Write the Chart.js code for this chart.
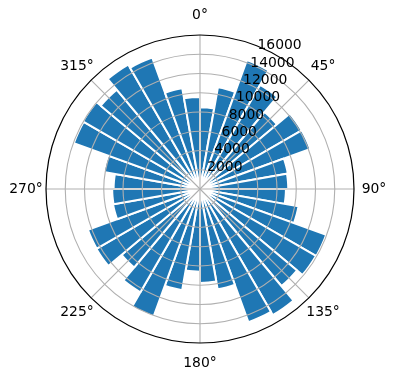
<!DOCTYPE html>
<html>
<head>
<meta charset="utf-8">
<script src="https://cdn.jsdelivr.net/npm/chart.js@4/dist/chart.umd.min.js"></script>
<style>
html, body { margin: 0; padding: 0; background: #ffffff; }
canvas { display: block; }
</style>
</head>
<body>
<canvas id="c" width="396" height="380"></canvas>
<script>
// Direction sectors (10° each, clockwise from north)
const sectors = [
  '0-10°','10-20°','20-30°','30-40°','40-50°','50-60°','60-70°','70-80°','80-90°',
  '90-100°','100-110°','110-120°','120-130°','130-140°','140-150°','150-160°','160-170°','170-180°',
  '180-190°','190-200°','200-210°','210-220°','220-230°','230-240°','240-250°','250-260°','260-270°',
  '270-280°','280-290°','290-300°','300-310°','310-320°','320-330°','330-340°','340-350°','350-360°'
];
// Bar lengths
const values = [
  8700, 11000, 14600, 12800, 10700, 12500, 12500, 9500, 9400,
  9150, 10650, 14300, 14250, 13500, 15500, 15100, 10850, 10000,
  8800, 10950, 14450, 12700, 10900, 12750, 12700, 9400, 9350,
  9200, 10400, 14300, 14400, 13800, 15300, 14900, 10900, 9800
];
// Radial tick labels
const radialTicks = [2000, 4000, 6000, 8000, 10000, 12000, 14000, 16000];
// Angular tick positions (degrees) and their labels
const angleTicks = [0, 45, 90, 135, 180, 225, 270, 315];
const angleTickLabels = ['0°', '45°', '90°', '135°', '180°', '225°', '270°', '315°'];
const radialMax = 16400;

const FONT = '13.9px "DejaVu Sans", sans-serif';

const polarDecor = {
  id: 'polarDecor',
  afterDatasetsDraw(chart) {
    const s = chart.scales.r;
    const ctx = chart.ctx;
    const step = 360 / chart.data.labels.length;
    ctx.save();
    ctx.strokeStyle = '#b0b0b0';
    ctx.lineWidth = 1.1;
    angleTicks.forEach(d => {
      const p = s.getPointPosition(d / step, s.drawingArea);
      ctx.beginPath();
      ctx.moveTo(s.xCenter, s.yCenter);
      ctx.lineTo(p.x, p.y);
      ctx.stroke();
    });
    ctx.restore();
  },
  afterDraw(chart) {
    const s = chart.scales.r;
    const ctx = chart.ctx;
    const step = 360 / chart.data.labels.length;
    ctx.save();
    ctx.fillStyle = '#000000';
    ctx.font = FONT;
    // radial tick labels along 22.5°
    ctx.textAlign = 'left';
    ctx.textBaseline = 'alphabetic';
    radialTicks.forEach(v => {
      const p = s.getPointPosition(22.5 / step, s.getDistanceFromCenterForValue(v));
      ctx.fillText(String(v), p.x, p.y - 1);
    });
    // angular labels
    ctx.textAlign = 'center';
    ctx.textBaseline = 'middle';
    angleTicks.forEach((d, i) => {
      const p = s.getPointPosition(d / step, s.drawingArea + 20);
      ctx.fillText(angleTickLabels[i], p.x, p.y);
    });
    ctx.restore();
  }
};

new Chart(document.getElementById('c'), {
  type: 'polarArea',
  data: {
    labels: sectors,
    datasets: [{
      data: values,
      backgroundColor: '#1f77b4',
      borderColor: '#ffffff',
      borderWidth: 2
    }]
  },
  options: {
    responsive: false,
    animation: false,
    layout: { padding: { left: 46, right: 42, top: 35, bottom: 37 } },
    plugins: { legend: { display: false }, tooltip: { enabled: false } },
    scales: {
      r: {
        min: 0,
        max: radialMax,
        bounds: 'data',
        startAngle: 0,
        angleLines: { display: false },
        pointLabels: { display: false },
        grid: {
          circular: true,
          z: 1,
          color: c => (c.tick && c.tick.value >= radialMax) ? '#000000' : '#b0b0b0',
          lineWidth: c => (c.tick && c.tick.value >= radialMax) ? 1.2 : 1.1
        },
        ticks: { display: false, stepSize: 2000, includeBounds: false, z: 1 }
      }
    }
  },
  plugins: [polarDecor]
});
</script>
</body>
</html>
